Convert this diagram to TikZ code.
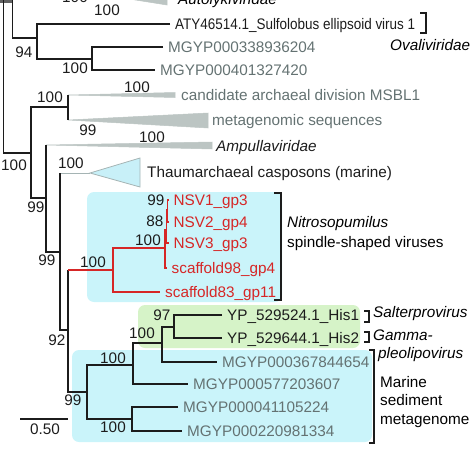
\documentclass[tikz,border=0pt]{standalone}
\usepackage{fontspec}
\usepackage{graphicx}
\setmainfont{Liberation Sans}
\usetikzlibrary{calc}
\definecolor{linec}{RGB}{28,28,28}
\definecolor{mgrey}{RGB}{100,114,114}
\definecolor{wgrey}{RGB}{188,197,195}
\definecolor{wedgeout}{RGB}{165,180,180}
\definecolor{boxblue}{RGB}{202,244,250}
\definecolor{boxgreen}{RGB}{214,243,200}
\definecolor{thaumfill}{RGB}{200,240,248}
\definecolor{nsvred}{RGB}{214,38,38}
\begin{document}
\begin{tikzpicture}[x=1pt,y=-1pt,line cap=butt,line join=miter,
  br/.style={draw=linec,line width=1.2pt},
  rbr/.style={draw=nsvred,line width=1.4pt},
  fnt/.style={font=\fontsize{15.3}{18}\selectfont},
  lab/.style={fnt,inner sep=0,text=linec},
  leaf/.style={fnt,inner sep=0,anchor=base west,xshift=5pt,yshift=-5.5pt},
  wtxt/.style={fnt,inner sep=0,anchor=base west,yshift=-5.5pt},
  brk/.style={draw=linec,line width=1.1pt},
  wedge/.style={fill=wgrey,draw=wgrey,line width=0.5pt}]
\useasboundingbox (0,0) rectangle (474,474);

% background boxes
\fill[boxblue,rounded corners=7pt] (87,192) rectangle (282,302);
\fill[boxblue,rounded corners=7pt] (72,350) rectangle (372,442);
\fill[boxgreen,rounded corners=7pt] (138,305) rectangle (360,348);

% top cut-off parts
\fill[black!62] (0,-2) rectangle (13,3);
\fill[wedge] (85,-8) -- (167,-25) -- (167,5) -- cycle;
\node[lab] (l0) at (75,-3) {100};
\node[wtxt,font=\fontsize{15.3}{18}\selectfont\itshape] (tauto) at (178,-1.5) {Autolykiviridae};
\node[lab] (l1) at (107,10) {100};

% coordinates of tree nodes and leaves
\coordinate (roottop) at (3.3,-5);
\coordinate (n12top) at (12.7,-5);
\coordinate (nOv) at (37,38);
\coordinate (aty) at (170,24);
\coordinate (nM) at (92,59);
\coordinate (mg1) at (163,47);
\coordinate (mg2) at (155,70);
\coordinate (n31) at (31,153);
\coordinate (n68a) at (68,107);
\coordinate (wa) at (68,95);
\coordinate (wb) at (68,120);
\coordinate (n46) at (46,198);
\coordinate (wamp) at (46,145);
\coordinate (n60) at (60,252);
\coordinate (thst) at (90,173);
\coordinate (n68b) at (68,330);
\coordinate (nA) at (113,270);
\coordinate (nB) at (165,248);
\coordinate (s83) at (160,292);
\coordinate (nC) at (166.5,230);
\coordinate (s98) at (166.5,268);
\coordinate (nD) at (167.5,210);
\coordinate (nsv3) at (168.5,243);
\coordinate (nsv1) at (168.5,200);
\coordinate (nsv2) at (168.5,222);
\coordinate (n87) at (87,392);
\coordinate (n133) at (133,365);
\coordinate (n132) at (132,419);
\coordinate (n162) at (162,343);
\coordinate (mg3607) at (188,384);
\coordinate (n174) at (174,327);
\coordinate (mg4654) at (217,362);
\coordinate (yp1) at (222,315);
\coordinate (yp2) at (222,338);
\coordinate (mg5224) at (178,407);
\coordinate (mg1334) at (182,431);

% wedges
\fill[wedge] (wa) -- (175,92.5) -- (175,97.5) -- cycle;
\fill[wedge] (wb) -- (208,113) -- (208,128) -- cycle;
\fill[wedge] (wamp) -- (212,142) -- (212,149) -- cycle;
\draw[wedgeout,line width=0.8pt] (n60 |- thst) -- (thst);
\draw[wedgeout,fill=thaumfill,line width=0.8pt] (thst) -- (140,158) -- (140,187) -- cycle;

% black branches
\draw[br] (n31) -| (roottop);
\draw[br] (nOv) -| (n12top);
\draw[br] (aty) -| (nOv) |- (nM);
\draw[br] (mg1) -| (nM) |- (mg2);
\draw[br] (n68a) -| (n31) |- (n46);
\draw[br] (wa) -- (wb);
\draw[br] (n46 |- wamp) -- (n46) |- (n60);
\draw[br] (n60 |- thst) -- (n60) |- (n68b);
\draw[br] (n68b |- nA) -- (n68b |- n87) -- (n87);
\draw[br] (n133) -| (n87) |- (n132);
\draw[br] (n162) -| (n133) |- (mg3607);
\draw[br] (n174) -| (n162) |- (mg4654);
\draw[br] (yp1) -| (n174) |- (yp2);
\draw[br] (mg5224) -| (n132) |- (mg1334);

% red branches
\draw[rbr] (nA -| n68b) -- (nA);
\draw[rbr] (nB) -| (nA) |- (s83);
\draw[rbr] (nC) -| (nB) |- (s98);
\draw[rbr] (nD) -| (nC) |- (nsv3);
\draw[rbr] (nsv1) -| (nD) |- (nsv2);

% leaf texts
\node[leaf,text=linec] (taty) at (aty) {\scalebox{0.88}[1]{ATY46514.1\_Sulfolobus ellipsoid virus 1}};
\node[leaf,text=mgrey] (tmg1) at (mg1) {MGYP000338936204};
\node[leaf,text=mgrey] (tmg2) at (mg2) {MGYP000401327420};
\node[wtxt,text=mgrey] (tmsbl) at (181,95) {candidate archaeal division MSBL1};
\node[wtxt,text=mgrey] (tmeta) at (212,120) {metagenomic sequences};
\node[wtxt,text=linec,font=\fontsize{15.3}{18}\selectfont\itshape] (tamp) at (216,146) {Ampullaviridae};
\node[wtxt,text=linec] (tthaum) at (147,172) {Thaumarchaeal casposons (marine)};
\node[leaf,text=nsvred] (tnsv1) at (nsv1) {NSV1\_gp3};
\node[leaf,text=nsvred] (tnsv2) at (nsv2) {NSV2\_gp4};
\node[leaf,text=nsvred] (tnsv3) at (nsv3) {NSV3\_gp3};
\node[leaf,text=nsvred] (ts98) at (s98) {scaffold98\_gp4};
\node[leaf,text=nsvred] (ts83) at (s83) {scaffold83\_gp11};
\node[leaf,text=linec] (typ1) at (yp1) {YP\_529524.1\_His1};
\node[leaf,text=linec] (typ2) at (yp2) {YP\_529644.1\_His2};
\node[leaf,text=mgrey] (tmg4654) at (mg4654) {MGYP000367844654};
\node[leaf,text=mgrey] (tmg3607) at (mg3607) {MGYP000577203607};
\node[leaf,text=mgrey] (tmg5224) at (mg5224) {MGYP000041105224};
\node[leaf,text=mgrey] (tmg1334) at (mg1334) {MGYP000220981334};

% support values
\node[lab] (l94) at (24,52) {94};
\node[lab] (l100a) at (75,68) {100};
\node[lab] (l100b) at (50,97) {100};
\node[lab] (l100c) at (137,87) {100};
\node[lab] (l99a) at (88,130) {99};
\node[lab] (l100d) at (152,137) {100};
\node[lab] (l100e) at (14,165) {100};
\node[lab] (l100f) at (71,163) {100};
\node[lab] (l99b) at (36,207) {99};
\node[lab] (l99c) at (47,260) {99};
\node[lab] (l92) at (57,340) {92};
\node[lab] (l100g) at (93,262) {100};
\node[lab] (l100h) at (148,240) {100};
\node[lab] (l88) at (155,221) {88};
\node[lab] (l99d) at (156,200) {99};
\node[lab] (l97) at (162,315) {97};
\node[lab] (l100i) at (142,333) {100};
\node[lab] (l100j) at (113,358) {100};
\node[lab] (l99e) at (73,400) {99};
\node[lab] (l100k) at (113,427) {100};

% scale bar
\coordinate (sb1) at (20,419);
\coordinate (sb2) at (68,419);
\draw[br] (sb1) -- (sb2);
\node[lab] (tsb) at (45,429) {0.50};

% brackets and clade names
\draw[brk] (420,13) -- (426,13) -- (426,33) -- (420,33);
\node[wtxt,font=\fontsize{15.3}{18}\selectfont\itshape] (tov) at (390,45) {Ovaliviridae};
\draw[brk] (274,193) -- (281,193) -- (281,300) -- (274,300);
\node[wtxt,font=\fontsize{15.3}{18}\selectfont\itshape] (tnit) at (287,222) {Nitrosopumilus};
\node[wtxt] (tspin) at (287,242) {spindle-shaped viruses};
\draw[brk] (364,311) -- (369,311) -- (369,322) -- (364,322);
\node[wtxt,font=\fontsize{15.3}{18}\selectfont\itshape] (tsal) at (373,312) {Salterprovirus};
\draw[brk] (364,332) -- (369,332) -- (369,342) -- (364,342);
\node[wtxt,font=\fontsize{15.3}{18}\selectfont\itshape] (tgam) at (373,335) {Gamma-};
\node[wtxt,font=\fontsize{15.3}{18}\selectfont\itshape] (tpleo) at (378,353) {pleolipovirus};
\draw[brk] (369,350) -- (374,350) -- (374,443) -- (369,443);
\node[wtxt] (tmar) at (380,382) {Marine};
\node[wtxt] (tsed) at (380,400) {sediment};
\node[wtxt] (tmeg) at (380,419) {metagenome};
\end{tikzpicture}
\end{document}
